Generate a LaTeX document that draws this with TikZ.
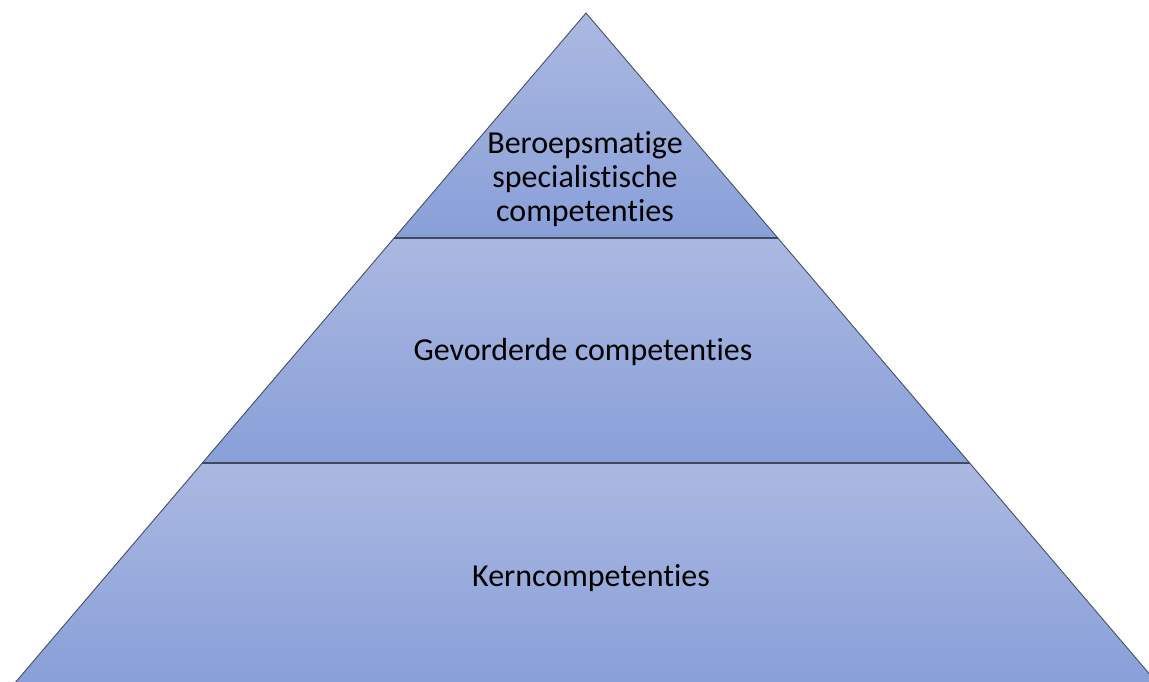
\documentclass[tikz,border=0pt]{standalone}
\usepackage{fontspec}
\setmainfont{Carlito}[Ligatures=NoCommon]
\definecolor{bandtop}{RGB}{171,185,225}
\definecolor{bandbot}{RGB}{136,159,216}
\definecolor{edge}{RGB}{70,82,105}
\tikzset{
  band/.style={top color=bandtop, bottom color=bandbot, draw=none},
  edgeline/.style={draw=edge, line width=0.9pt},
  divider/.style={draw=edge!90!black, line width=1.4pt},
  label/.style={font=\fontsize{32}{34}\selectfont, text=black, align=center, inner sep=0pt}
}
\begin{document}
\begin{tikzpicture}[x=1pt,y=-1pt]
\useasboundingbox (0,0) rectangle (1149,681);
\coordinate (apex) at (586,13);
\coordinate (l1) at (394,238);
\coordinate (r1) at (778,238);
\coordinate (l2) at (202,463);
\coordinate (r2) at (970,463);
\coordinate (l3) at (14,684);
\coordinate (r3) at (1158,684);
\begin{scope}
\clip (0,0) rectangle (1149,681);
\path[band] (apex) -- (r1) -- (l1) -- cycle;
\path[band] (l1) -- (r1) -- (r2) -- (l2) -- cycle;
\path[band] (l2) -- (r2) -- (r3) -- (l3) -- cycle;
\draw[edgeline] (l3) -- (apex) -- (r3);
\draw[divider] (l1) -- (r1);
\draw[divider] (l2) -- (r2);
\end{scope}
\node[label] (top) at (585,179) {Beroepsmatige\\specialistische\\competenties};
\node[label] (mid) at (583,352) {Gevorderde competenties};
\node[label] (bot) at (591,578) {Kerncompetenties};
\end{tikzpicture}
\end{document}
